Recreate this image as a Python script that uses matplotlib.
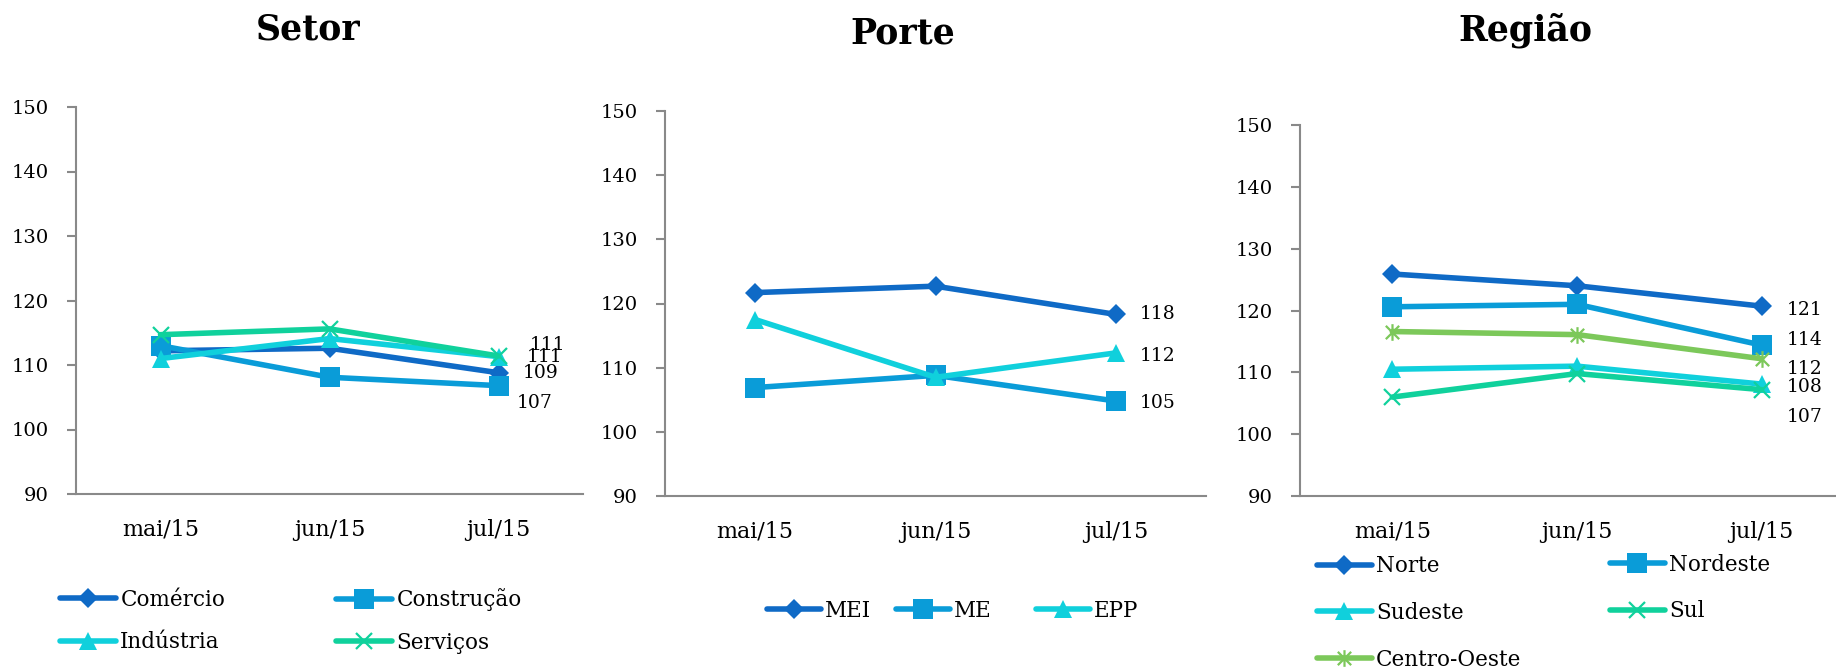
import matplotlib
matplotlib.use("Agg")
import matplotlib.pyplot as plt
from matplotlib.path import Path

# ---- data -------------------------------------------------------------
months = ["mai/15", "jun/15", "jul/15"]

setor_names = ["Comércio", "Construção", "Indústria", "Serviços"]
comercio = [112.2, 112.6, 108.8]
construcao = [113.0, 108.1, 106.8]
industria = [111.0, 114.1, 111.3]
servicos = [114.7, 115.6, 111.4]

porte_names = ["MEI", "ME", "EPP"]
mei = [121.7, 122.7, 118.3]
me = [106.9, 108.8, 104.8]
epp = [117.5, 108.5, 112.3]

regiao_names = ["Norte", "Nordeste", "Sudeste", "Sul", "Centro-Oeste"]
norte = [125.9, 124.0, 120.7]
nordeste = [120.6, 121.0, 114.4]
sudeste = [110.5, 111.0, 108.1]
sul = [106.0, 109.8, 107.2]
centro_oeste = [116.6, 116.1, 112.2]

y_ticks = [90, 100, 110, 120, 130, 140, 150]

# ---- styles -----------------------------------------------------------
W, H = 1836, 671
DPI = 100
FONT = "DejaVu Serif"
AXIS_GRAY = "#898989"

C_DARK = "#0F6AC6"
C_MID = "#0A9CD8"
C_CYAN = "#10D0DC"
C_TEAL = "#10D19C"
C_GREEN = "#7CC85A"

asterisk = Path(
    [(-1, -1), (1, 1), (-1, 1), (1, -1), (0, -1.25), (0, 1.25)],
    [Path.MOVETO, Path.LINETO, Path.MOVETO, Path.LINETO, Path.MOVETO, Path.LINETO],
)

MARK = {
    "diamond": dict(marker="D", markersize=10, markeredgewidth=0),
    "square": dict(marker="s", markersize=14, markeredgewidth=0),
    "triangle": dict(marker="^", markersize=13, markeredgewidth=0),
    "x": dict(marker="x", markersize=12, markeredgewidth=1.6),
    "star": dict(marker=asterisk, markersize=12, markeredgewidth=1.6,
                 markerfacecolor="none"),
}

plt.rcParams["font.family"] = FONT

fig = plt.figure(figsize=(W / DPI, H / DPI), dpi=DPI)
fig.patch.set_facecolor("white")


def px_axes(left, top, right, bottom):
    return fig.add_axes([left / W, 1 - bottom / H, (right - left) / W, (bottom - top) / H])


def style_axes(ax):
    ax.set_xlim(-0.5, 2.5)
    ax.set_ylim(90, 150)
    ax.set_yticks(y_ticks)
    ax.set_xticks(range(len(months)))
    ax.set_xticklabels(months)
    for s in ("top", "right"):
        ax.spines[s].set_visible(False)
    for s in ("left", "bottom"):
        ax.spines[s].set_color(AXIS_GRAY)
        ax.spines[s].set_linewidth(1.5)
    ax.tick_params(axis="y", direction="out", length=6.5, width=1.5,
                   color=AXIS_GRAY, pad=13, labelsize=14)
    ax.tick_params(axis="x", length=0, pad=18, labelsize=16)
    ax.patch.set_alpha(0)


def draw_series(ax, values, color, mk):
    style = dict(MARK[mk])
    ln, = ax.plot(range(len(values)), values, color=color, lw=4,
                  markerfacecolor=style.pop("markerfacecolor", color),
                  markeredgecolor=color, solid_capstyle="round", **style)
    ln.set_clip_on(False)
    return ln


def value_label(ax, values, dx, dy):
    ax.annotate(f"{values[-1]:.0f}", xy=(len(values) - 1, values[-1]),
                xytext=(dx, -dy), textcoords="offset pixels",
                ha="left", va="center", fontsize=13.5, color="black")


def column_legend(handles, labels, x, y, handlelength, labelspacing):
    leg = fig.legend(handles, labels, loc="center left",
                     bbox_to_anchor=(x / W, 1 - y / H), frameon=False,
                     borderpad=0, borderaxespad=0, handlelength=handlelength,
                     handletextpad=0.2, labelspacing=labelspacing,
                     fontsize=15.5, numpoints=1)
    return leg


# ---- Setor ------------------------------------------------------------
ax1 = px_axes(76, 107, 583, 494)
style_axes(ax1)
s_lines = [
    draw_series(ax1, comercio, C_DARK, "diamond"),
    draw_series(ax1, construcao, C_MID, "square"),
    draw_series(ax1, industria, C_CYAN, "triangle"),
    draw_series(ax1, servicos, C_TEAL, "x"),
]
value_label(ax1, servicos, 31, -11)
value_label(ax1, industria, 28, 0)
value_label(ax1, comercio, 24, 0)
value_label(ax1, construcao, 18, 17)
fig.text(308 / W, 1 - 29 / H, "Setor", ha="center", va="center",
         fontsize=25, fontweight="bold")
column_legend([s_lines[0], s_lines[2]], [setor_names[0], setor_names[2]],
              60, 621, 2.6, 0.95)
column_legend([s_lines[1], s_lines[3]], [setor_names[1], setor_names[3]],
              336, 621, 2.6, 0.95)

# ---- Porte ------------------------------------------------------------
ax2 = px_axes(665, 111, 1206, 496)
style_axes(ax2)
p_lines = [
    draw_series(ax2, mei, C_DARK, "diamond"),
    draw_series(ax2, me, C_MID, "square"),
    draw_series(ax2, epp, C_CYAN, "triangle"),
]
value_label(ax2, mei, 24, 0)
value_label(ax2, epp, 24, 3)
value_label(ax2, me, 24, 2)
fig.text(903 / W, 1 - 33 / H, "Porte", ha="center", va="center",
         fontsize=25, fontweight="bold")
for ln, name, x in zip(p_lines, porte_names, (767, 896, 1036)):
    column_legend([ln], [name], x, 611, 2.5, 1.0)

# ---- Região -----------------------------------------------------------
ax3 = px_axes(1300, 125, 1854, 496)
style_axes(ax3)
r_lines = [
    draw_series(ax3, norte, C_DARK, "diamond"),
    draw_series(ax3, nordeste, C_MID, "square"),
    draw_series(ax3, sudeste, C_CYAN, "triangle"),
    draw_series(ax3, sul, C_TEAL, "x"),
    draw_series(ax3, centro_oeste, C_GREEN, "star"),
]
value_label(ax3, norte, 25, 4)
value_label(ax3, nordeste, 25, -5)
value_label(ax3, centro_oeste, 25, 10)
value_label(ax3, sudeste, 25, 3)
value_label(ax3, sul, 25, 27)
fig.text(1525 / W, 1 - 30 / H, "Região", ha="center", va="center",
         fontsize=25, fontweight="bold")
column_legend([r_lines[0], r_lines[2], r_lines[4]],
              [regiao_names[0], regiao_names[2], regiao_names[4]],
              1317, 613, 2.55, 1.15)
column_legend([r_lines[1], r_lines[3]], [regiao_names[1], regiao_names[3]],
              1610, 588, 2.55, 1.15)

fig.savefig("out.png", dpi=DPI, facecolor="white")
